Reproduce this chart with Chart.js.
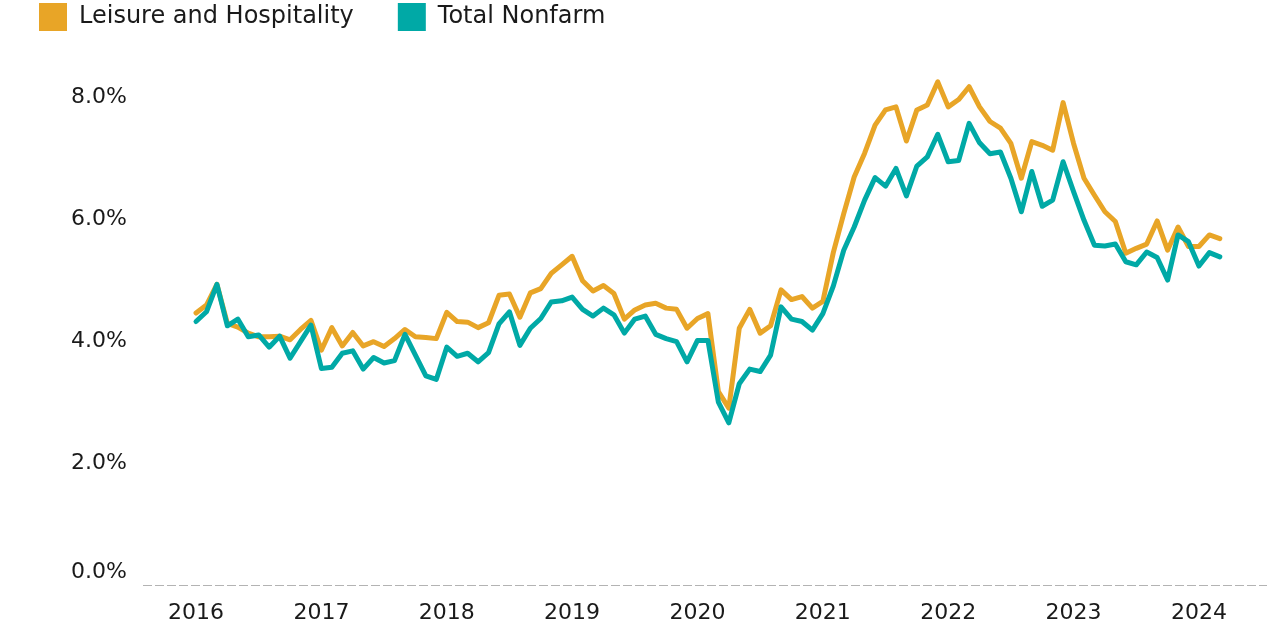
<!DOCTYPE html>
<html>
<head>
<meta charset="utf-8">
<script src="https://cdn.jsdelivr.net/npm/chart.js@4/dist/chart.umd.min.js"></script>
<style>
  html, body { margin: 0; padding: 0; background: #fff; }
  canvas { display: block; }
</style>
</head>
<body>
<canvas id="chart" width="1275" height="626"></canvas>
<script>
// monthly series, Jan 2016 .. Mar 2024 (percent)
const START_YEAR = 2016;
const SERIES_NAMES = ['Leisure and Hospitality', 'Total Nonfarm'];
const SERIES_COLORS = ['#E8A527', '#00A9A6'];
const YEAR_TICKS = [2016, 2017, 2018, 2019, 2020, 2021, 2022, 2023, 2024];
const Y_TICKS = [0, 2, 4, 6, 8];

const leisure = [
  4.46, 4.59, 4.93, 4.29, 4.23, 4.13, 4.07, 4.07, 4.08, 4.02, 4.19, 4.34,
  3.85, 4.22, 3.92, 4.14, 3.92, 3.99, 3.91, 4.04, 4.19, 4.07, 4.06, 4.04,
  4.47, 4.32, 4.31, 4.22, 4.30, 4.75, 4.77, 4.39, 4.79, 4.86, 5.11, 5.25,
  5.39, 4.99, 4.82, 4.91, 4.78, 4.36, 4.51, 4.59, 4.62, 4.54, 4.52, 4.21,
  4.37, 4.45, 3.17, 2.90, 4.21, 4.52, 4.13, 4.25, 4.84, 4.68, 4.73, 4.54,
  4.65, 5.45, 6.09, 6.69, 7.08, 7.54, 7.79, 7.84, 7.28, 7.79, 7.87, 8.25,
  7.84, 7.96, 8.17, 7.84, 7.60, 7.49, 7.24, 6.67, 7.27, 7.21, 7.13, 7.91,
  7.24, 6.67, 6.39, 6.12, 5.96, 5.44, 5.52, 5.59, 5.97, 5.49, 5.87, 5.55,
  5.55, 5.74, 5.68
];

const nonfarm = [
  4.32, 4.48, 4.93, 4.25, 4.36, 4.07, 4.10, 3.90, 4.08, 3.72, 3.99, 4.26,
  3.55, 3.57, 3.80, 3.84, 3.54, 3.73, 3.64, 3.68, 4.11, 3.77, 3.43, 3.37,
  3.90, 3.75, 3.80, 3.66, 3.81, 4.28, 4.48, 3.93, 4.21, 4.37, 4.64, 4.66,
  4.72, 4.52, 4.41, 4.54, 4.43, 4.13, 4.36, 4.41, 4.11, 4.04, 3.99, 3.66,
  4.01, 4.01, 3.00, 2.66, 3.30, 3.54, 3.50, 3.77, 4.56, 4.36, 4.32, 4.18,
  4.45, 4.90, 5.49, 5.87, 6.31, 6.68, 6.54, 6.83, 6.38, 6.87, 7.02, 7.39,
  6.94, 6.96, 7.57, 7.25, 7.07, 7.10, 6.67, 6.12, 6.78, 6.21, 6.31, 6.94,
  6.45, 5.98, 5.57, 5.56, 5.59, 5.30, 5.25, 5.46, 5.37, 5.00, 5.74, 5.63,
  5.23, 5.45, 5.38
];

const FONT = 'DejaVu Sans';
const TEXT_COLOR = '#1a1a1a';

function toPoints(values) {
  return values.map((v, i) => ({ x: START_YEAR + i / 12, y: v }));
}

function makeDataset(idx, values) {
  return {
    label: SERIES_NAMES[idx],
    data: toPoints(values),
    borderColor: SERIES_COLORS[idx],
    backgroundColor: SERIES_COLORS[idx],
    borderWidth: 5,
    borderJoinStyle: 'round',
    borderCapStyle: 'round',
    pointRadius: 0,
    tension: 0
  };
}

// eslint-disable-next-line no-new
new Chart(document.getElementById('chart'), {
  type: 'line',
  data: {
    // nonfarm first so it is painted on top
    datasets: [makeDataset(1, nonfarm), makeDataset(0, leisure)]
  },
  options: {
    responsive: false,
    animation: false,
    devicePixelRatio: 1,
    layout: {
      padding: { top: -41, right: 8, bottom: 0, left: -5 }
    },
    plugins: {
      tooltip: { enabled: false },
      legend: {
        position: 'top',
        align: 'start',
        reverse: true,
        labels: {
          boxWidth: 28,
          boxHeight: 28,
          padding: 44,
          color: TEXT_COLOR,
          font: { family: FONT, size: 24 },
          generateLabels: chart => Chart.defaults.plugins.legend.labels
            .generateLabels(chart)
            .map(item => ({ ...item, lineWidth: 0 }))
        }
      }
    },
    scales: {
      x: {
        type: 'linear',
        min: 2015.577,
        max: 2024.543,
        afterBuildTicks: scale => {
          scale.ticks = YEAR_TICKS.map(v => ({ value: v }));
        },
        afterFit: scale => {
          scale.height = 41;
        },
        grid: { display: false, drawTicks: false },
        border: { display: false },
        ticks: {
          padding: 15,
          maxRotation: 0,
          autoSkip: false,
          color: TEXT_COLOR,
          font: { family: FONT, size: 22 },
          callback: value => String(value)
        }
      },
      y: {
        min: 0,
        max: 8.92,
        afterBuildTicks: scale => {
          scale.ticks = Y_TICKS.map(v => ({ value: v }));
        },
        afterFit: scale => {
          scale.width = 148;
          scale.paddingBottom = 0;
        },
        // only the zero line is drawn, dashed
        grid: {
          drawTicks: false,
          lineWidth: 1,
          color: ctx => ctx.tick && ctx.tick.value === 0 ? '#b3b3b3' : 'rgba(0,0,0,0)'
        },
        border: { display: false, dash: [9, 3] },
        ticks: {
          padding: 16,
          color: TEXT_COLOR,
          font: { family: FONT, size: 22 },
          // lift the bottom label above the dashed baseline
          callback: value => value === 0 ? ['0.0%', ''] : value.toFixed(1) + '%'
        }
      }
    }
  }
});
</script>
</body>
</html>
